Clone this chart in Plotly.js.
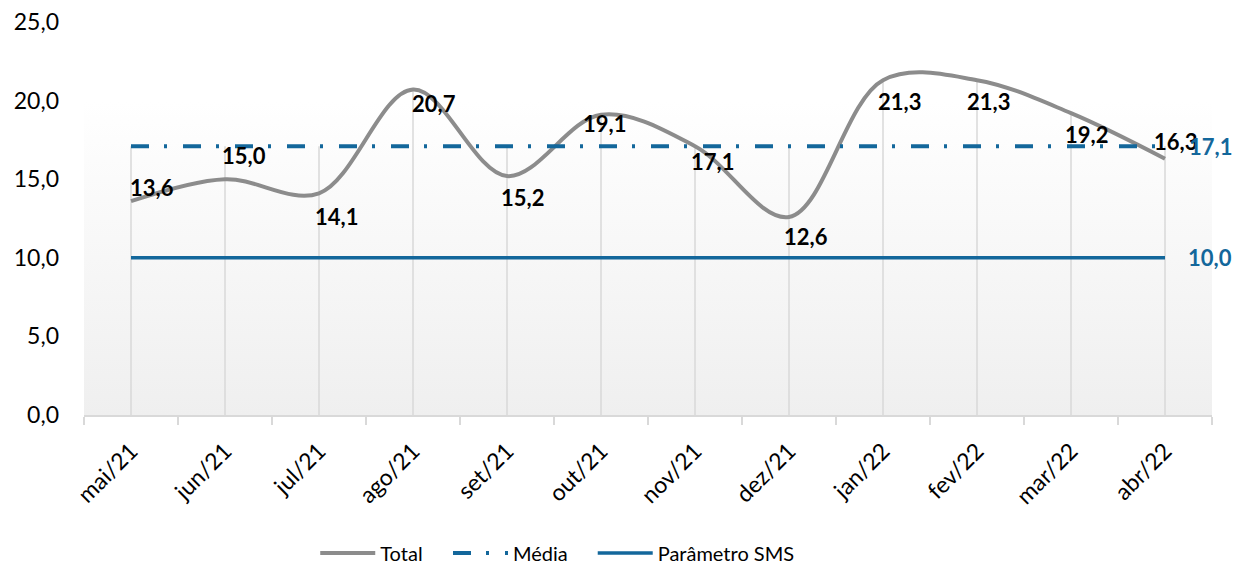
<!DOCTYPE html>
<html>
<head>
<meta charset="utf-8">
<script src="https://cdn.plot.ly/plotly-3.0.1.min.js"></script>
<style>
  html, body { margin: 0; padding: 0; background: #ffffff; }
  #wrap { position: relative; width: 1236px; height: 567px; }
  #bg { position: absolute; left: 84px; top: 22px; width: 1128px; height: 393px;
        background: linear-gradient(to bottom, #ffffff 0%, #ffffff 20%, #efefef 100%); }
  #chart { position: absolute; left: 0; top: 0; width: 1236px; height: 567px; }
</style>
</head>
<body>
<div id="wrap"><div id="bg"></div><div id="chart"></div></div>
<script>
const categories = ["mai/21","jun/21","jul/21","ago/21","set/21","out/21","nov/21","dez/21","jan/22","fev/22","mar/22","abr/22"];
const total = [13.6, 15.0, 14.1, 20.7, 15.2, 19.1, 17.1, 12.6, 21.3, 21.3, 19.2, 16.3];
const media = [17.1, 17.1, 17.1, 17.1, 17.1, 17.1, 17.1, 17.1, 17.1, 17.1, 17.1, 17.1];
const parametro = [10.0, 10.0, 10.0, 10.0, 10.0, 10.0, 10.0, 10.0, 10.0, 10.0, 10.0, 10.0];
const yTicks = [0, 5, 10, 15, 20, 25];

// label offsets (pixels) for Total data labels
const labelShift = [[21,14],[19,24],[17,-23],[21,-14],[15,-21],[3,-9],[17,-15],[17,-20],[16,-21],[11,-21],[15,-21],[10,17]];

const fontFam = "Lato, 'Open Sans', sans-serif";
const blue = "#13679b";
const gray = "#8c8c8c";

// drop lines
const dx = [], dy = [];
categories.forEach((c, i) => {
  dx.push(c, c, null);
  dy.push(0, Math.max(total[i], media[i], parametro[i]), null);
});

const fmt = v => v.toFixed(1).replace(".", ",");

const traces = [
  { x: dx, y: dy, mode: "lines", line: {color: "#d9d9d9", width: 1.5}, showlegend: false, hoverinfo: "skip" },
  { x: categories, y: total, name: "Total", mode: "lines", legend: "legend", line: {color: gray, width: 4, shape: "spline", smoothing: 1} },
  { x: categories, y: media, name: "Média", mode: "lines", legend: "legend2", line: {color: blue, width: 4, dash: "18px,15px,3px,16px"} },
  { x: categories, y: parametro, name: "Parâmetro SMS", mode: "lines", legend: "legend3", line: {color: blue, width: 3.5} }
];

const annotations = total.map((v, i) => ({
  x: categories[i], y: v, text: "<b>" + fmt(v) + "</b>", showarrow: false,
  xshift: labelShift[i][0], yshift: labelShift[i][1],
  font: {family: fontFam, size: 22, color: "#000000"}
}));
annotations.push({ x: categories[11], y: media[11], text: "<b>" + fmt(media[11]) + "</b>", showarrow: false,
  xshift: 45, yshift: 0, font: {family: fontFam, size: 22, color: blue} });
annotations.push({ x: categories[11], y: parametro[11], text: "<b>" + fmt(parametro[11]) + "</b>", showarrow: false,
  xshift: 45, yshift: 0, font: {family: fontFam, size: 22, color: blue} });

const legendStyle = (xpos) => ({
  orientation: "h", x: xpos, xanchor: "left", y: -0.351, yanchor: "middle",
  font: {family: fontFam, size: 20, color: "#000"}, itemwidth: 55, bgcolor: "rgba(0,0,0,0)"
});

const layout = {
  width: 1236, height: 567,
  margin: {l: 84, r: 24, t: 22, b: 152, autoexpand: false},
  paper_bgcolor: "rgba(0,0,0,0)",
  plot_bgcolor: "rgba(0,0,0,0)",
  separators: ", ",
  font: {family: fontFam, size: 21, color: "#000000"},
  xaxis: {
    type: "category", categoryorder: "array", categoryarray: categories, automargin: false,
    range: [-0.5, 11.5], tickson: "boundaries", ticks: "outside", ticklen: 8, tickcolor: "#d9d9d9", tickwidth: 1.5,
    showgrid: false, showline: true, linecolor: "#d9d9d9", linewidth: 1.5,
    tickangle: -45, tickfont: {family: fontFam, size: 23, color: "#000"}, ticklabelstandoff: 12,
    zeroline: false, fixedrange: true
  },
  yaxis: {
    range: [0, 25], tickvals: yTicks, ticktext: yTicks.map(fmt), showgrid: false, zeroline: false, automargin: false,
    showline: false, ticks: "", tickfont: {family: fontFam, size: 23, color: "#000"}, ticklabelstandoff: 24,
    fixedrange: true
  },
  showlegend: true,
  legend: legendStyle(0.205),
  legend2: legendStyle(0.3227),
  legend3: legendStyle(0.451),
  annotations: annotations
};

Plotly.newPlot("chart", traces, layout, {displayModeBar: false, staticPlot: true});
</script>
</body>
</html>
